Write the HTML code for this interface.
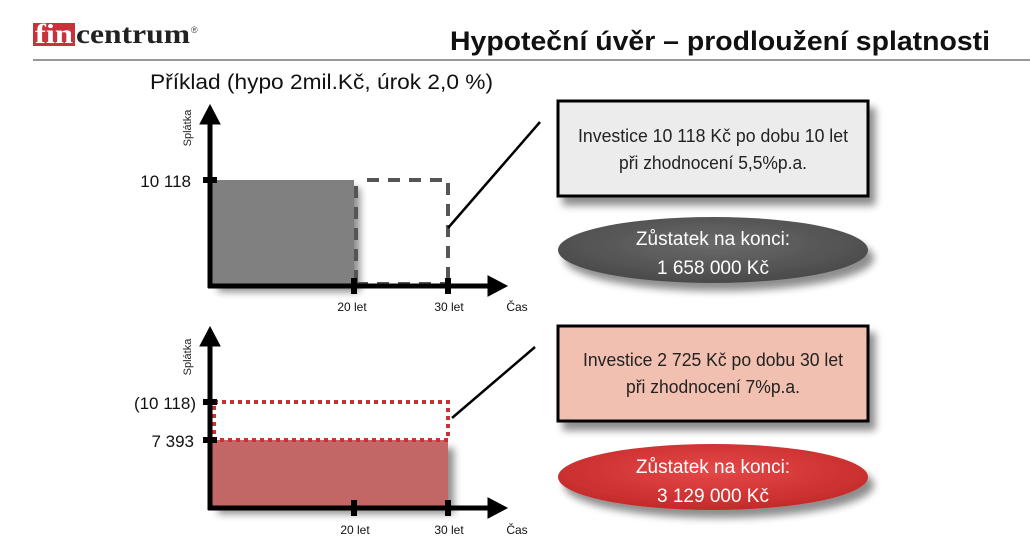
<!DOCTYPE html>
<html><head><meta charset="utf-8"><style>
html,body{margin:0;padding:0;background:#fff;}
svg{display:block;font-family:"Liberation Sans",sans-serif;}
</style></head><body>
<svg width="1030" height="542" viewBox="0 0 1030 542" xmlns="http://www.w3.org/2000/svg">
<defs>
<filter id="sh" x="-20%" y="-20%" width="150%" height="160%"><feGaussianBlur in="SourceAlpha" stdDeviation="4"/><feOffset dx="6" dy="8"/><feComponentTransfer><feFuncA type="linear" slope="0.45"/></feComponentTransfer><feMerge><feMergeNode/><feMergeNode in="SourceGraphic"/></feMerge></filter>
<radialGradient id="g1" cx="50%" cy="40%" r="60%"><stop offset="0" stop-color="#6a6a6a"/><stop offset="1" stop-color="#4a4a4a"/></radialGradient>
<radialGradient id="g2" cx="50%" cy="40%" r="60%"><stop offset="0" stop-color="#e64848"/><stop offset="1" stop-color="#c42a2a"/></radialGradient>
</defs>
<!-- header -->
<rect x="33" y="23" width="42" height="23" fill="#c8323c"/>
<text x="35" y="43" font-family="Liberation Serif,serif" font-weight="bold" font-size="27" fill="#fff" textLength="38" lengthAdjust="spacingAndGlyphs">fin</text>
<text x="76" y="43" font-family="Liberation Serif,serif" font-weight="bold" font-size="27" fill="#222" textLength="114" lengthAdjust="spacingAndGlyphs">centrum</text>
<text x="191" y="33" font-size="9" fill="#444">®</text>
<text x="990" y="50" text-anchor="end" font-weight="bold" font-size="27" fill="#111" textLength="540" lengthAdjust="spacingAndGlyphs">Hypoteční úvěr – prodloužení splatnosti</text>
<line x1="33" y1="60" x2="1030" y2="60" stroke="#777" stroke-width="1.5"/>
<text x="150" y="89" font-size="21" fill="#111" textLength="343" lengthAdjust="spacingAndGlyphs">Příklad (hypo 2mil.Kč, úrok 2,0 %)</text>

<!-- top chart -->
<rect x="212" y="180" width="142" height="104" fill="#808080" filter="url(#sh)"/>
<g stroke="#555" stroke-width="4" fill="none" stroke-dasharray="12 9">
<polyline points="367,180 448,180 448,285"/>
<line x1="356" y1="186" x2="356" y2="284"/>
<line x1="356" y1="284" x2="448" y2="284"/>
</g>
<g stroke="#000" fill="#000">
<line x1="210" y1="120" x2="210" y2="288" stroke-width="5"/>
<line x1="208" y1="286" x2="492" y2="286" stroke-width="5"/>
<polygon points="210,105 200,124 220,124"/>
<polygon points="507,286 488,276 488,296"/>
<line x1="203" y1="180" x2="217" y2="180" stroke-width="6"/>
<line x1="354" y1="278" x2="354" y2="294" stroke-width="6"/>
<line x1="448" y1="278" x2="448" y2="294" stroke-width="6"/>
<line x1="448" y1="228" x2="540" y2="122" stroke-width="2.5"/>
</g>
<text x="191" y="187" text-anchor="end" font-size="17" fill="#111">10 118</text>
<text transform="translate(191,128) rotate(-90)" text-anchor="middle" font-size="11" fill="#222">Splátka</text>
<text x="352" y="311" text-anchor="middle" font-size="12" fill="#111">20 let</text>
<text x="449" y="311" text-anchor="middle" font-size="12" fill="#111">30 let</text>
<text x="517" y="311" text-anchor="middle" font-size="12" fill="#111">Čas</text>

<rect x="558" y="101" width="310" height="95" fill="#ececec" stroke="#000" stroke-width="3" filter="url(#sh)"/>
<text x="713" y="142" text-anchor="middle" font-size="18" fill="#222" textLength="270" lengthAdjust="spacingAndGlyphs">Investice 10 118 Kč po dobu 10 let</text>
<text x="713" y="169" text-anchor="middle" font-size="18" fill="#222" textLength="188" lengthAdjust="spacingAndGlyphs">při zhodnocení 5,5%p.a.</text>
<ellipse cx="713" cy="250" rx="155" ry="33" fill="url(#g1)" filter="url(#sh)"/>
<text x="713" y="245" text-anchor="middle" font-size="19" fill="#fff">Zůstatek na konci:</text>
<text x="713" y="274" text-anchor="middle" font-size="19" fill="#fff">1 658 000 Kč</text>

<!-- bottom chart -->
<rect x="212" y="440" width="236" height="66" fill="#c26666" filter="url(#sh)"/>
<rect x="214" y="402" width="234" height="38" fill="none" stroke="#c83232" stroke-width="4" stroke-dasharray="4 4"/>
<g stroke="#000" fill="#000">
<line x1="210" y1="342" x2="210" y2="510" stroke-width="5"/>
<line x1="208" y1="508" x2="492" y2="508" stroke-width="5"/>
<polygon points="210,327 200,346 220,346"/>
<polygon points="507,508 488,498 488,518"/>
<line x1="203" y1="402" x2="217" y2="402" stroke-width="6"/>
<line x1="203" y1="440" x2="217" y2="440" stroke-width="6"/>
<line x1="354" y1="500" x2="354" y2="516" stroke-width="6"/>
<line x1="448" y1="500" x2="448" y2="516" stroke-width="6"/>
<line x1="452" y1="418" x2="535" y2="347" stroke-width="2.5"/>
</g>
<text x="196" y="409" text-anchor="end" font-size="17" fill="#111">(10 118)</text>
<text x="194" y="447" text-anchor="end" font-size="17" fill="#111">7 393</text>
<text transform="translate(191,357) rotate(-90)" text-anchor="middle" font-size="11" fill="#222">Splátka</text>
<text x="355" y="534" text-anchor="middle" font-size="12" fill="#111">20 let</text>
<text x="449" y="534" text-anchor="middle" font-size="12" fill="#111">30 let</text>
<text x="517" y="534" text-anchor="middle" font-size="12" fill="#111">Čas</text>

<rect x="558" y="326" width="310" height="95" fill="#f2c0b0" stroke="#000" stroke-width="3" filter="url(#sh)"/>
<text x="713" y="366" text-anchor="middle" font-size="18" fill="#222" textLength="260" lengthAdjust="spacingAndGlyphs">Investice 2 725 Kč po dobu 30 let</text>
<text x="713" y="393" text-anchor="middle" font-size="18" fill="#222" textLength="174" lengthAdjust="spacingAndGlyphs">při zhodnocení 7%p.a.</text>
<ellipse cx="713" cy="477" rx="155" ry="33" fill="url(#g2)" filter="url(#sh)"/>
<text x="713" y="473" text-anchor="middle" font-size="19" fill="#fff">Zůstatek na konci:</text>
<text x="713" y="502" text-anchor="middle" font-size="19" fill="#fff">3 129 000 Kč</text>
</svg>
</body></html>
